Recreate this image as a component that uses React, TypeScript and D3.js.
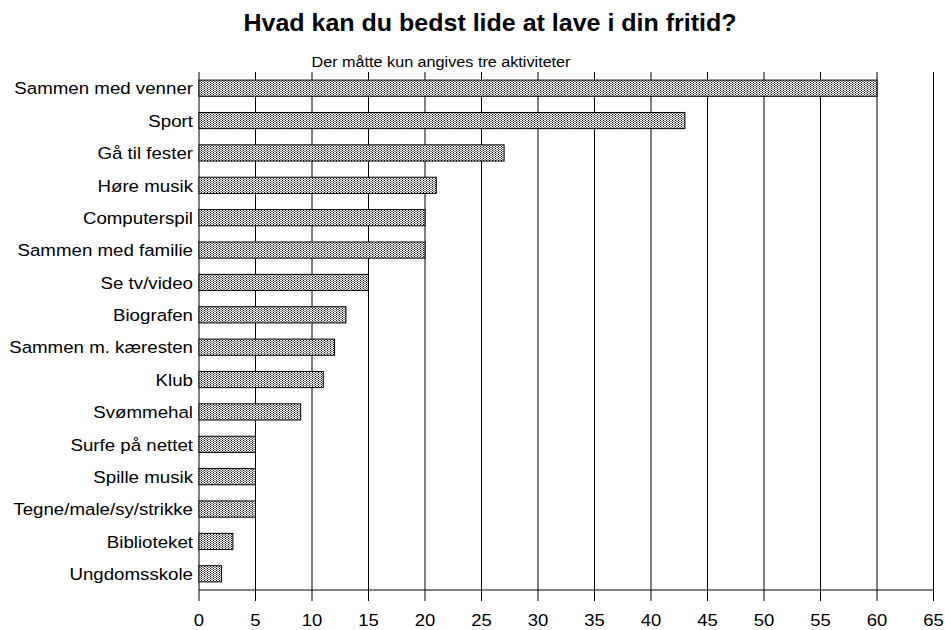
import React from "react";
import * as d3 from "d3";

const categories = [
  "Sammen med venner",
  "Sport",
  "Gå til fester",
  "Høre musik",
  "Computerspil",
  "Sammen med familie",
  "Se tv/video",
  "Biografen",
  "Sammen m. kæresten",
  "Klub",
  "Svømmehal",
  "Surfe på nettet",
  "Spille musik",
  "Tegne/male/sy/strikke",
  "Biblioteket",
  "Ungdomsskole",
];
const values = [60, 43, 27, 21, 20, 20, 15, 13, 12, 11, 9, 5, 5, 5, 3, 2];
const xTicks = [0, 5, 10, 15, 20, 25, 30, 35, 40, 45, 50, 55, 60, 65];
const title = "Hvad kan du bedst lide at lave i din fritid?";
const subtitle = "Der måtte kun angives tre aktiviteter";

const SY = 0.92;

function T(props: { x: number; y: number; size: number; anchor: string; bold?: boolean; children: React.ReactNode }) {
  const font = "'Liberation Sans', Arial, sans-serif";
  return (
    <text
      transform={`translate(${props.x},${props.y}) scale(1,${SY})`}
      textAnchor={props.anchor}
      fontFamily={font}
      fontWeight={props.bold ? "bold" : "normal"}
      fontSize={props.size}
      fill="#000"
    >
      {props.children}
    </text>
  );
}

export default function App() {
  const W = 945, H = 630;
  const left = 199, right = 933.5, top = 72, bottom = 590;
  const x = d3.scaleLinear().domain([0, 65]).range([left, right]);
  const y = d3.scaleBand().domain(categories).range([top, bottom]).paddingInner(0.5).paddingOuter(0.25);
  return (
    <svg width={W} height={H} style={{ position: "absolute", left: 0, top: 0, background: "#fff" }}>
      <defs>
        <pattern id="dots" width="6" height="2" patternUnits="userSpaceOnUse">
          <rect width="6" height="2" fill="#fff" />
          <rect x="0" y="0" width="1" height="1" fill="#000" />
          <rect x="3" y="0" width="1" height="1" fill="#000" />
          <rect x="1.5" y="1" width="1" height="1" fill="#000" />
          <rect x="4.5" y="1" width="1" height="1" fill="#000" />
        </pattern>
      </defs>
      <rect width={W} height={H} fill="#fff" />
      <T x={490} y={31} anchor="middle" size={25} bold>{title}</T>
      <T x={441} y={67} anchor="middle" size={16.2}>{subtitle}</T>
      {xTicks.map((t) => (
        <g key={t}>
          <line x1={x(t)} x2={x(t)} y1={top} y2={bottom + 11} stroke="#000" strokeWidth={1} />
          <T x={x(t)} y={626} anchor="middle" size={18.5}>{t}</T>
        </g>
      ))}
      <line x1={left} x2={right} y1={bottom} y2={bottom} stroke="#000" strokeWidth={1} />
      {categories.map((c, i) => (
        <g key={c}>
          <rect
            x={x(0)}
            y={y(c)!}
            width={x(values[i]) - x(0)}
            height={y.bandwidth()}
            fill="url(#dots)"
            stroke="#000"
            strokeWidth={1}
          />
          <T x={193} y={y(c)! + y.bandwidth() / 2 + 6.3} anchor="end" size={18.7}>{c}</T>
        </g>
      ))}
    </svg>
  );
}
